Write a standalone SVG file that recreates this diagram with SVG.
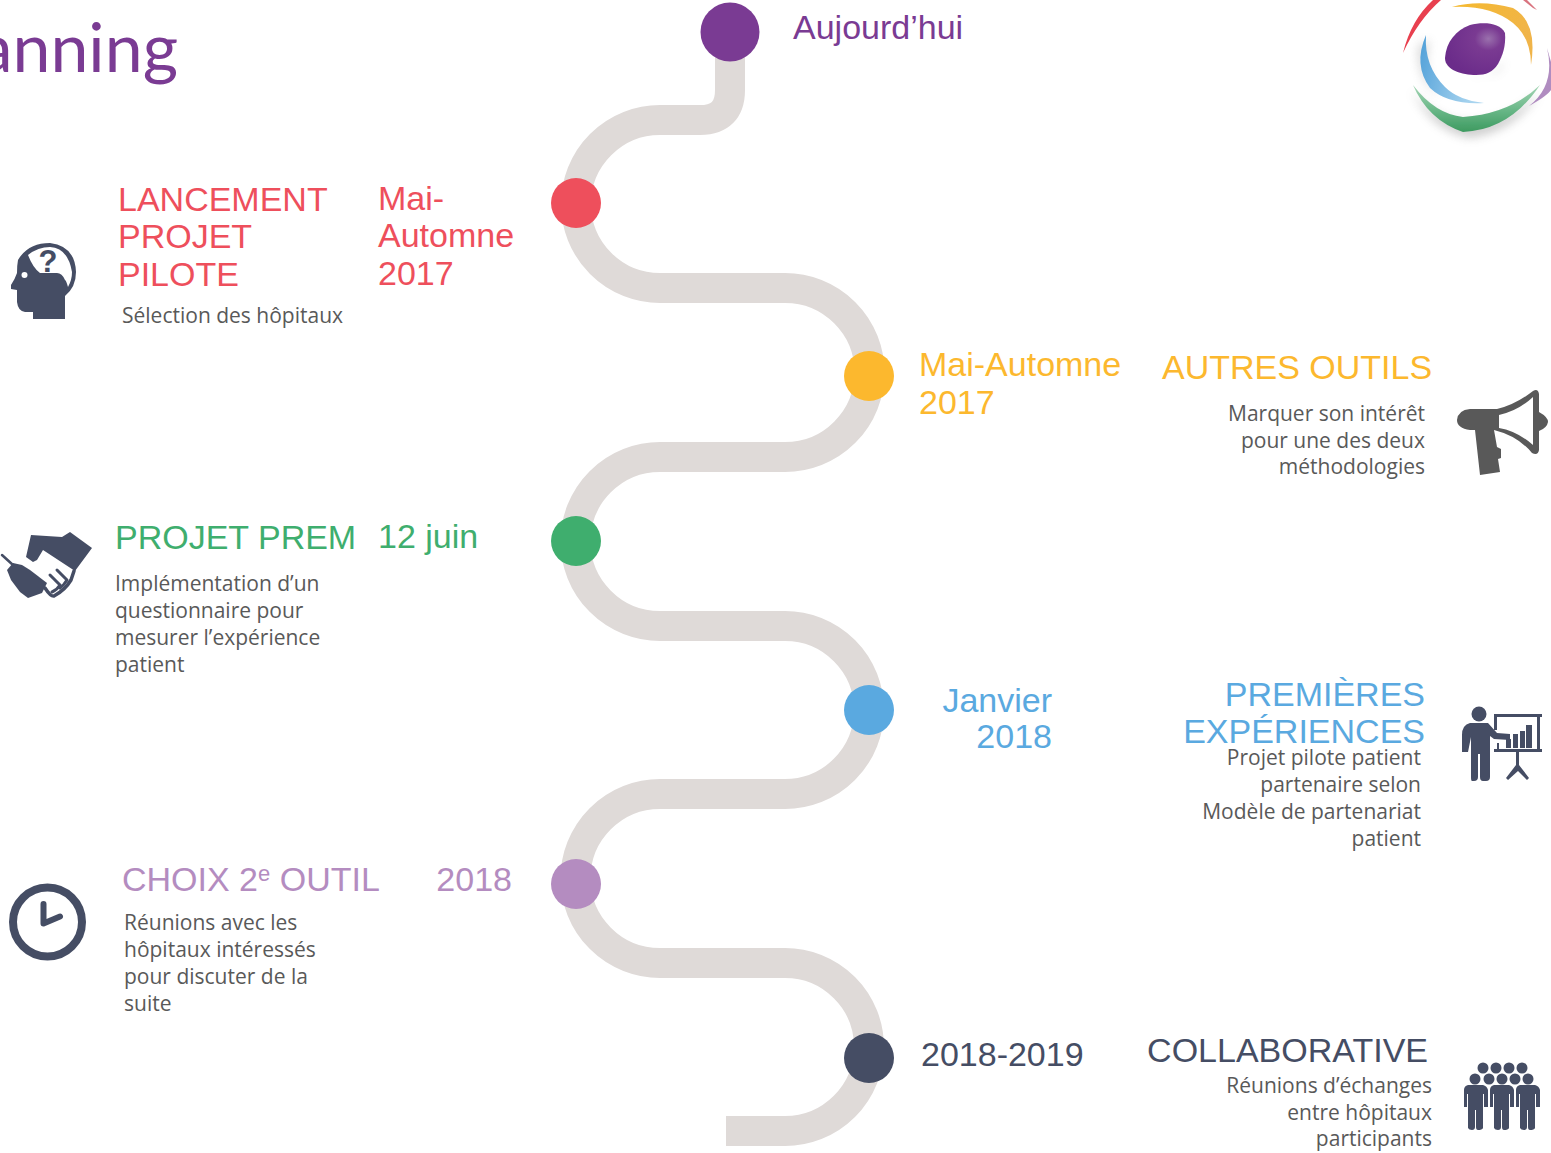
<svg xmlns="http://www.w3.org/2000/svg" width="1551" height="1153" viewBox="0 0 1551 1153">
<defs>
<style>
.h{font-family:"Liberation Sans",Arial,sans-serif;font-size:34px}
.b{font-family:"Open Sans",sans-serif;font-size:21px;fill:#595959}
.e{text-anchor:end}
.i{fill:#454d64}
.g{fill:#595959}
</style>
<filter id="bl" x="-30%" y="-30%" width="160%" height="160%"><feGaussianBlur stdDeviation="5"/></filter>
<filter id="sf" x="-10%" y="-10%" width="120%" height="120%"><feGaussianBlur stdDeviation="0.600"/></filter>
<radialGradient id="pu" cx="0.72" cy="0.3" r="0.75"><stop offset="0" stop-color="#9a70ad"/><stop offset="0.3" stop-color="#7a3a92"/><stop offset="1" stop-color="#6b2c8a"/></radialGradient>
<linearGradient id="gr" x1="0" y1="0" x2="0" y2="1"><stop offset="0" stop-color="#a5d5b5"/><stop offset="0.5" stop-color="#6cb98a"/><stop offset="1" stop-color="#3d9a60"/></linearGradient>
<linearGradient id="bu" x1="0" y1="0" x2="1" y2="0.300"><stop offset="0" stop-color="#4f9fd8"/><stop offset="1" stop-color="#a8d4ef"/></linearGradient>
<linearGradient id="ye" x1="0" y1="0" x2="1" y2="0.500"><stop offset="0" stop-color="#f5b92f"/><stop offset="1" stop-color="#f0b44a"/></linearGradient>
</defs>

<g id="connectors">
<path id="track" d="M730 32V90Q730 120 700 120H660A84 84 0 0 0 660 288H785A84.500 84.500 0 0 1 785 457H660A84.500 84.500 0 0 0 660 626H785A84 84 0 0 1 785 794H660A84.500 84.500 0 0 0 660 963H785A84 84 0 0 1 785 1131H726" fill="none" stroke="#dfdad8" stroke-width="30"/>
</g>

<g id="title"><text x="178" y="72" text-anchor="end" font-family="Lato,sans-serif" font-size="68" fill="#7a3b93">anning</text></g>

<g id="logo">
<path d="M1412 90Q1430 130 1470 138Q1515 132 1540 92Q1510 120 1474 122Q1435 122 1412 90Z" fill="#777" opacity=".35" filter="url(#bl)"/>
<path d="M1418 45Q1415 80 1440 98Q1420 75 1430 40Z" fill="#888" opacity=".3" filter="url(#bl)"/>
<path d="M1470 76Q1490 82 1505 60Q1500 80 1470 76Z" fill="#777" opacity=".3" filter="url(#bl)"/>
<g filter="url(#sf)">
<path d="M1403 53Q1411 20 1433 0H1441Q1418 20 1403 53Z" fill="#e8404f"/>
<path d="M1527 0L1537 10L1533 8L1523 0Z" fill="#d9737f"/>
<path d="M1452 7Q1480 -1 1513 8Q1538 22 1531 65Q1531 38 1513 23Q1490 5 1452 7Z" fill="url(#ye)"/>
<path d="M1426 35Q1413 65 1430 88Q1448 105 1484 103Q1458 100 1445 87Q1424 66 1426 35Z" fill="url(#bu)"/>
<path d="M1413 85Q1428 120 1463 132Q1510 130 1540 85Q1510 114 1463 117Q1435 114 1413 85Z" fill="url(#gr)"/>
<path d="M1547 48Q1556 85 1529 106Q1547 96 1551 90V62Z" fill="#b08cc0"/>
</g>
<path d="M1445 58C1446 42 1456 30 1470 25C1482 22 1500 22 1505 33C1506 45 1503 55 1498 64C1493 72 1486 75 1476 75C1462 75 1445 70 1445 58Z" fill="url(#pu)"/>
</g>

<g id="n0"><circle cx="730" cy="32" r="29.500" fill="#7a3b93"/><text class="h" x="793" y="39" fill="#7a3b93">Aujourd’hui</text></g>

<g id="n1">
<circle cx="576" cy="203" r="25" fill="#ee4f5c"/>
<text class="h" fill="#ee4f5c"><tspan x="118" y="211">LANCEMENT</tspan><tspan x="118" y="248">PROJET</tspan><tspan x="118" y="286">PILOTE</tspan></text>
<text class="h" fill="#ee4f5c"><tspan x="378" y="210">Mai-</tspan><tspan x="378" y="247">Automne</tspan><tspan x="378" y="285">2017</tspan></text>
<text class="b" x="122" y="323">Sélection des hôpitaux</text>
<path class="i" fill-rule="evenodd" d="M33 319V312H25Q18 311 17 302V290L11 289V285Q15 279 17 273Q17 265 18 260Q28 243 50 243Q75 246 76 272Q76 287 65 296V319ZM28 255Q38 247 50 247Q68 248 72 272Q72 280 68 287Q66 280 65 280Q62 273 57 273H40Q33 268 28 255Z"/>
<circle cx="24.500" cy="275" r="3" fill="#fff"/>
<text x="48" y="272" font-family="Liberation Sans,sans-serif" font-weight="700" font-size="31" text-anchor="middle" fill="#454d64">?</text>
</g>

<g id="n2">
<circle cx="869" cy="376" r="25" fill="#fcb82e"/>
<text class="h" fill="#fcb82e"><tspan x="919" y="376">Mai-Automne</tspan><tspan x="919" y="414">2017</tspan></text>
<text class="h" x="1162" y="379" fill="#fcb82e">AUTRES OUTILS</text>
<text class="b e"><tspan x="1425" y="421">Marquer son intérêt</tspan><tspan x="1425" y="448">pour une des deux</tspan><tspan x="1425" y="474">méthodologies</tspan></text>
<path class="g" fill-rule="evenodd" d="M1470 409H1497Q1515 405 1533 391Q1538 388 1539 394V412Q1548 417 1548 422Q1547 428 1539 431V450Q1538 456 1532 453Q1518 436 1494 430L1497 447L1501 449L1501 458L1498 459L1500 472L1480 475L1475 430H1470Q1457 428 1457 420Q1458 410 1470 409ZM1499 415V428Q1517 431 1533 445V397Q1518 411 1499 415Z"/>
</g>

<g id="n3">
<circle cx="576" cy="541" r="25" fill="#3fae6e"/>
<text class="h" x="115" y="549" fill="#3fae6e">PROJET PREM</text>
<text class="h" x="378" y="548" fill="#3fae6e">12 juin</text>
<text class="b"><tspan x="115" y="591">Implémentation d’un</tspan><tspan x="115" y="618">questionnaire pour</tspan><tspan x="115" y="645">mesurer l’expérience</tspan><tspan x="115" y="672">patient</tspan></text>
<path class="i" d="M31 535L62 537L70 532L92 548L75 571L43 550L37 560L33 562L26 557Z"/>
<path class="i" d="M7 570L13 563L22 565L30 570L47 583L42 593L28 598L20 592L11 580Z"/>
<g fill="none" stroke="#454d64" stroke-linecap="round" stroke-linejoin="round">
<path d="M2 555L13 565" stroke-width="2.500"/>
<path d="M74 571L71 580Q65 590 54 596Q51 597 45 588" stroke-width="3.500"/>
<path d="M50 575L60 585Q57 590 52 592M57 570L67 580Q64 585 60 588" stroke-width="3"/>
</g>
</g>

<g id="n4">
<circle cx="869" cy="710" r="25" fill="#5aa9e0"/>
<text class="h" fill="#5aa9e0"><tspan x="1052" y="712" text-anchor="end">Janvier</tspan><tspan x="1052" y="748" text-anchor="end">2018</tspan></text>
<text class="h e" fill="#5aa9e0"><tspan x="1425" y="706">PREMIÈRES</tspan><tspan x="1425" y="743">EXPÉRIENCES</tspan></text>
<text class="b e"><tspan x="1421" y="765">Projet pilote patient</tspan><tspan x="1421" y="792">partenaire selon</tspan><tspan x="1421" y="819">Modèle de partenariat</tspan><tspan x="1421" y="846">patient</tspan></text>
<circle class="i" cx="1479" cy="714" r="7.500"/>
<path class="i" d="M1470 723H1488L1497 733L1510 734V740L1494 739L1490 736V777Q1490 781 1486 781H1483Q1480 781 1480 777V754H1478V777Q1478 781 1474 781H1472Q1471 781 1471 777V737L1468 752H1462V735Q1462 725 1470 723Z"/>
<path class="i" d="M1494 714H1542V717H1540V749H1542V752H1519V765L1529 778L1527 780L1518 771L1508 780L1506 778L1516 765V752H1494V749H1497V743H1499V749H1537V717H1497V730H1494Z"/>
<path class="i" d="M1506 739h5v9h-5zM1513 734h5v14h-5zM1520 731h5v17h-5zM1526 725h6v23h-6z"/>
</g>

<g id="n5">
<circle cx="576" cy="884" r="25" fill="#b48cc0"/>
<text class="h" fill="#b48cc0" x="122" y="891">CHOIX 2<tspan font-size="22" dy="-10">e</tspan><tspan dy="10"> OUTIL</tspan></text>
<text class="h e" x="512" y="891" fill="#b48cc0">2018</text>
<text class="b"><tspan x="124" y="930">Réunions avec les</tspan><tspan x="124" y="957">hôpitaux intéressés</tspan><tspan x="124" y="984">pour discuter de la</tspan><tspan x="124" y="1011">suite</tspan></text>
<circle cx="47.500" cy="922" r="34.500" fill="none" stroke="#454d64" stroke-width="8"/>
<path d="M43.500 904V923.500L60 916.500" fill="none" stroke="#454d64" stroke-width="6" stroke-linecap="round" stroke-linejoin="round"/>
</g>

<g id="n6">
<circle cx="869" cy="1058" r="25" fill="#454d64"/>
<text class="h" x="921" y="1066" fill="#454d64">2018-2019</text>
<text class="h e" x="1428" y="1062" fill="#454d64">COLLABORATIVE</text>
<text class="b e"><tspan x="1432" y="1093">Réunions d’échanges</tspan><tspan x="1432" y="1120">entre hôpitaux</tspan><tspan x="1432" y="1146">participants</tspan></text>
<g class="i">
<circle cx="1483" cy="1068" r="5.500"/><circle cx="1496" cy="1068" r="5.500"/><circle cx="1509" cy="1068" r="5.500"/><circle cx="1522" cy="1068" r="5.500"/>
<circle cx="1475" cy="1079" r="5.500"/><circle cx="1489" cy="1079" r="5.500"/><circle cx="1502" cy="1079" r="5.500"/><circle cx="1515" cy="1079" r="5.500"/><circle cx="1528" cy="1079" r="5.500"/>
<path d="M1468 1085H1483Q1487 1086 1488 1090V1107H1484V1094H1483V1128Q1482 1130 1478 1130Q1476 1130 1476 1127V1110H1475V1127Q1475 1130 1472 1130Q1469 1130 1468 1128V1094H1467V1107H1464V1090Q1464 1086 1468 1085Z"/>
<path d="M1494 1085H1509Q1513 1086 1514 1090V1107H1510V1094H1509V1128Q1508 1130 1504 1130Q1502 1130 1502 1127V1110H1501V1127Q1501 1130 1498 1130Q1495 1130 1494 1128V1094H1493V1107H1490V1090Q1490 1086 1494 1085Z"/>
<path d="M1520 1085H1535Q1539 1086 1540 1090V1107H1536V1094H1535V1128Q1534 1130 1530 1130Q1528 1130 1528 1127V1110H1527V1127Q1527 1130 1524 1130Q1521 1130 1520 1128V1094H1519V1107H1516V1090Q1516 1086 1520 1085Z"/>
</g>
</g>
</svg>
